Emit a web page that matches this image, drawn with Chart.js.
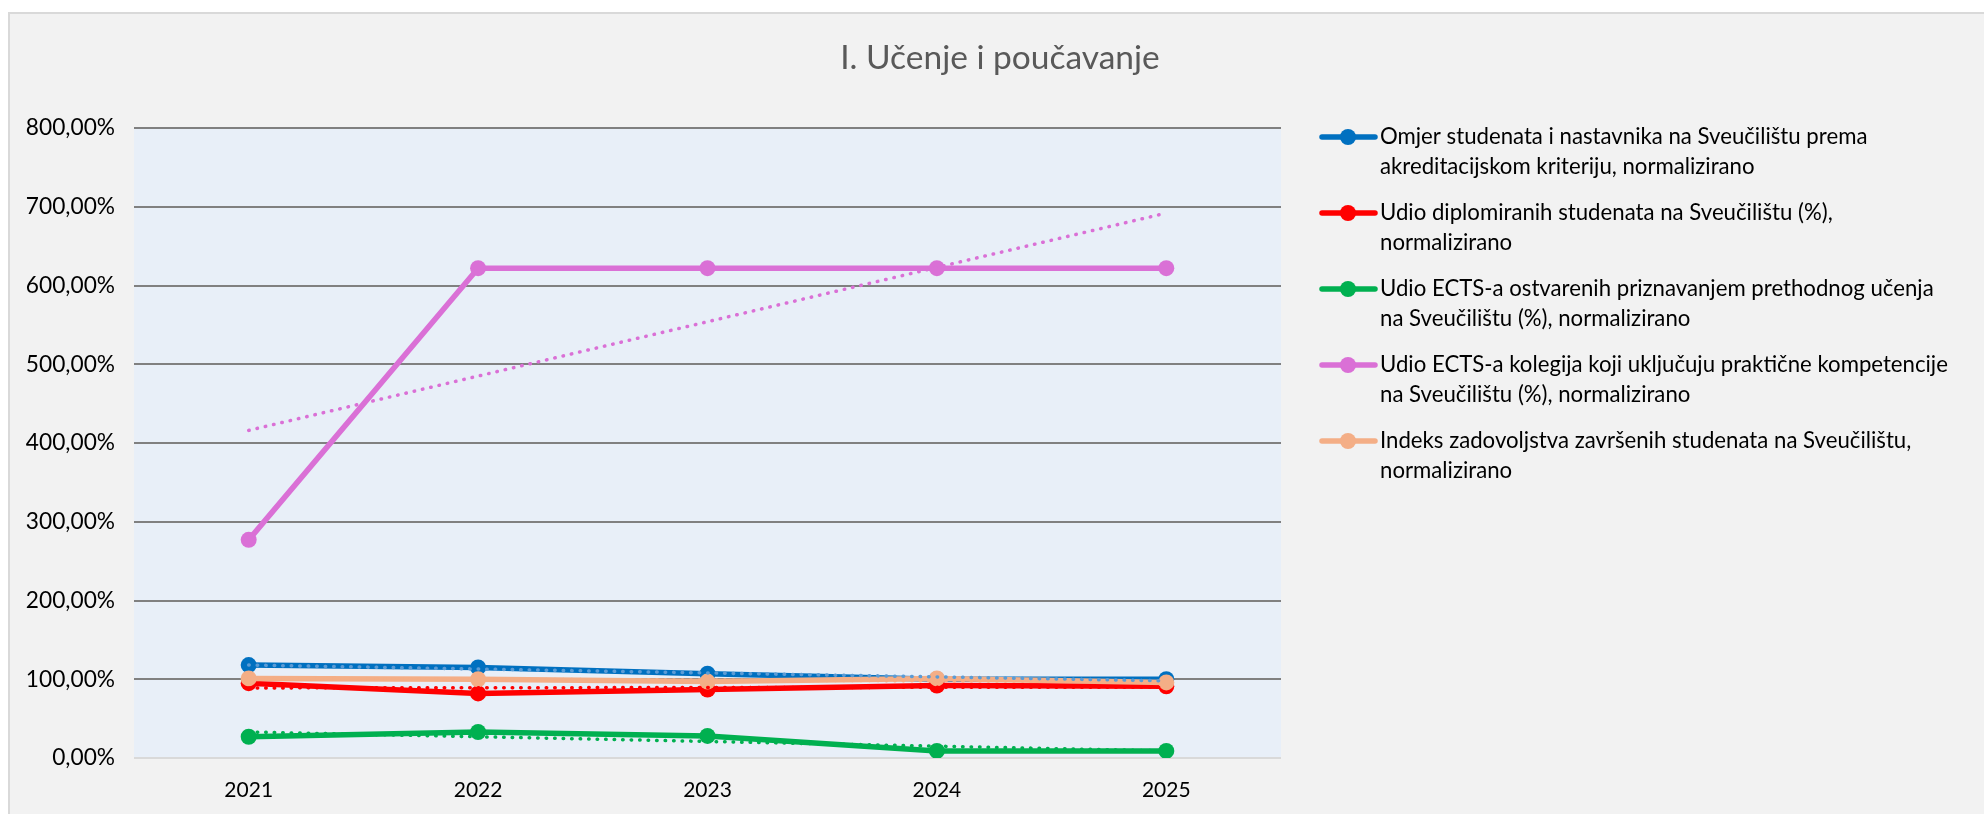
<!DOCTYPE html>
<html lang="hr">
<head>
<meta charset="UTF-8">
<title>I. Učenje i poučavanje</title>
<script src="https://cdn.jsdelivr.net/npm/chart.js"></script>
<style>
  html, body { margin: 0; padding: 0; background: #ffffff; overflow: hidden; }
  .okvir { position: absolute; left: 8px; top: 12px; width: 2000px; height: 830px; background: #f2f2f2; border: 2px solid #d9d9d9; box-sizing: border-box; }
  #grafikon { position: absolute; left: 0; top: 0; }
</style>
</head>
<body>
<div class="okvir"></div>
<canvas id="grafikon" width="1984" height="814"></canvas>
<script>
// podaci (u postocima)
const godine = ['2021', '2022', '2023', '2024', '2025'];
const omjer = [118, 115, 107, 100, 100];
const diplomirani = [95, 82, 87, 92, 91];
const ectsPrethodno = [27, 33, 28, 9, 9];
const ectsPrakticne = [277, 622, 622, 622, 622];
const zadovoljstvo = [101, 100, 97, 101, 96];

// linije trenda očitane s grafa (samo početak 2021 i kraj 2025)
const trendOmjer = [118, null, null, null, 98];
const trendDiplomirani = [89, null, null, null, 90];
const trendPrethodno = [33, null, null, null, 9];
const trendPrakticne = [416, null, null, null, 692];
const trendZadovoljstvo = [101, null, null, null, 97];

const yTickovi = [0, 100, 200, 300, 400, 500, 600, 700, 800];

const naslov = 'I. Učenje i poučavanje';
const nazivi = [
    ['Omjer studenata i nastavnika na Sveučilištu prema', 'akreditacijskom kriteriju, normalizirano'],
    ['Udio diplomiranih studenata na Sveučilištu (%),', 'normalizirano'],
    ['Udio ECTS-a ostvarenih priznavanjem prethodnog učenja', 'na Sveučilištu (%), normalizirano'],
    ['Udio ECTS-a kolegija koji uključuju praktične kompetencije', 'na Sveučilištu (%), normalizirano'],
    ['Indeks zadovoljstva završenih studenata na Sveučilištu,', 'normalizirano']
];

const plava = '#0070c0';
const crvena = '#ff0000';
const zelena = '#00b050';
const roza = '#da70d6';
const narancasta = '#f4ae86';
const svijetloPlava = '#5b9bd5';

const FONT = '"Lato", sans-serif';

Chart.defaults.font.family = FONT;
Chart.defaults.color = '#000000';

function serija(label, data, boja, red) {
    return {
        label: label,
        data: data,
        borderColor: boja,
        backgroundColor: boja,
        borderWidth: 5.5,
        pointRadius: 8,
        pointHoverRadius: 8,
        pointBorderWidth: 0,
        pointBackgroundColor: boja,
        tension: 0,
        order: red
    };
}

function trend(data, boja, red) {
    return {
        label: 'trend',
        data: data,
        borderColor: boja,
        borderWidth: 3.5,
        borderDash: [0.5, 8],
        borderCapStyle: 'round',
        pointRadius: 0,
        pointHoverRadius: 0,
        spanGaps: true,
        fill: false,
        order: red
    };
}

// pozadina područja grafa
const pozadinaPlugin = {
    id: 'pozadina',
    beforeDraw(chart) {
        const a = chart.chartArea;
        const ctx = chart.ctx;
        ctx.save();
        ctx.fillStyle = '#e8eff8';
        ctx.fillRect(a.left, a.top, a.right - a.left, a.bottom - a.top);
        ctx.restore();
    }
};

// naslov i legenda s prelamanjem redaka
const legendaPlugin = {
    id: 'legenda',
    afterDraw(chart) {
        const ctx = chart.ctx;
        ctx.save();
        ctx.fillStyle = '#595959';
        ctx.font = '33.5px ' + FONT;
        ctx.textAlign = 'center';
        ctx.textBaseline = 'middle';
        ctx.fillText(naslov, 1000, 58);

        ctx.textAlign = 'left';
        ctx.font = '22.2px ' + FONT;
        let i = 0;
        chart.data.datasets.forEach(ds => {
            if (!Array.isArray(ds.label)) return;
            const y = 137 + i * 76;
            ctx.strokeStyle = ds.borderColor;
            ctx.lineWidth = 5.5;
            ctx.lineCap = 'round';
            ctx.beginPath();
            ctx.moveTo(1322, y);
            ctx.lineTo(1375, y);
            ctx.stroke();
            ctx.fillStyle = ds.borderColor;
            ctx.beginPath();
            ctx.arc(1348, y, 8, 0, Math.PI * 2);
            ctx.fill();
            ctx.fillStyle = '#000000';
            ds.label.forEach((red, j) => ctx.fillText(red, 1380, y + j * 30));
            i++;
        });
        ctx.restore();
    }
};

const ctx = document.getElementById('grafikon').getContext('2d');

const grafikon = new Chart(ctx, {
    type: 'line',
    data: {
        labels: godine,
        datasets: [
            serija(nazivi[0], omjer, plava, 9),
            serija(nazivi[1], diplomirani, crvena, 8),
            serija(nazivi[2], ectsPrethodno, zelena, 7),
            serija(nazivi[3], ectsPrakticne, roza, 6),
            serija(nazivi[4], zadovoljstvo, narancasta, 5),
            trend(trendOmjer, svijetloPlava, 0),
            trend(trendDiplomirani, crvena, 1),
            trend(trendPrethodno, zelena, 2),
            trend(trendPrakticne, roza, 3),
            trend(trendZadovoljstvo, narancasta, 4)
        ]
    },
    options: {
        responsive: false,
        animation: false,
        layout: {
            padding: { left: 0, top: 128, right: 703, bottom: 0 }
        },
        plugins: {
            legend: { display: false },
            title: { display: false },
            tooltip: { enabled: false }
        },
        scales: {
            x: {
                offset: true,
                grid: { display: false },
                border: { display: false },
                ticks: {
                    font: { size: 21 },
                    color: '#000000',
                    padding: 12
                },
                afterFit(s) { s.height = 56; }
            },
            y: {
                min: 0,
                max: 800,
                border: { display: false },
                grid: {
                    drawTicks: false,
                    lineWidth: 2,
                    color: c => c.tick && c.tick.value === 0 ? '#d9d9d9' : '#808080'
                },
                afterBuildTicks(s) { s.ticks = yTickovi.map(v => ({ value: v })); },
                ticks: {
                    font: { size: 22.7 },
                    color: '#000000',
                    padding: 19,
                    callback: v => v + ',00%'
                },
                afterFit(s) { s.width = 134; }
            }
        }
    },
    plugins: [pozadinaPlugin, legendaPlugin]
});
</script>
</body>
</html>
